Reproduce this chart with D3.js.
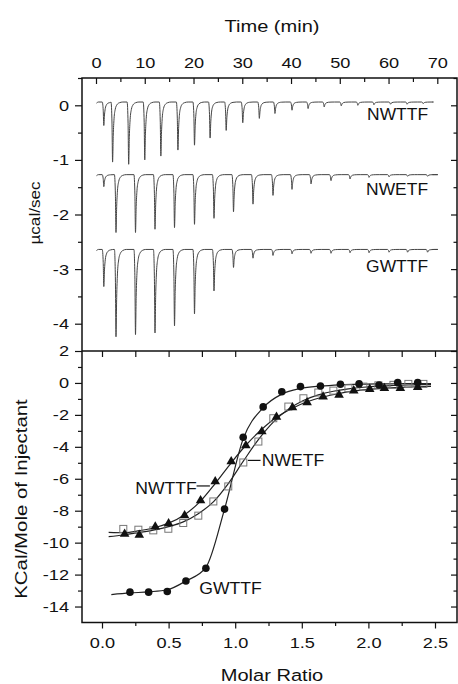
<!DOCTYPE html>
<html>
<head>
<meta charset="utf-8">
<script src="https://cdn.jsdelivr.net/npm/d3@7"></script>
<style>
  html, body { margin: 0; padding: 0; background: #fff; }
  svg { display: block; }
</style>
</head>
<body>
<svg id="chart" width="458" height="684"></svg>
<script>
// ---------------- DATA ----------------
// Top panel: raw thermograms (time in min, µcal/sec)
const timeTicks = [0, 10, 20, 30, 40, 50, 60, 70];
const rawYTicks = [0, -1, -2, -3, -4];

const nwttfBase = 0.06;
const nwttfTimes = [1.4, 3.2, 6.5, 9.8, 13.1, 16.6, 20.0, 23.2, 26.5, 29.9, 33.3, 36.5, 40.0, 43.3, 46.6, 50.1, 53.5, 56.8, 60.2, 63.6, 66.9];
const nwttfPeaks = [-0.37, -1.04, -1.08, -1.00, -0.93, -0.82, -0.73, -0.60, -0.46, -0.32, -0.24, -0.15, -0.09, -0.06, -0.03, -0.01, 0.00, 0.01, 0.02, 0.02, 0.03];

const nwetfBase = -1.27;
const nwetfTimes = [1.4, 3.9, 7.9, 11.9, 15.9, 20.0, 24.0, 28.0, 32.0, 36.1, 40.0, 43.9, 48.0, 51.9, 55.8, 59.9, 63.7, 67.8];
const nwetfPeaks = [-1.49, -2.33, -2.33, -2.27, -2.24, -2.18, -2.07, -1.95, -1.81, -1.65, -1.54, -1.44, -1.38, -1.35, -1.32, -1.31, -1.30, -1.30];

const gwttfBase = -2.64;
const gwttfTimes = [1.4, 3.9, 7.9, 11.9, 15.9, 20.0, 24.0, 28.0, 32.0, 36.1, 40.0, 43.9, 48.0, 51.9, 55.8, 59.9, 63.7, 67.8];
const gwttfPeaks = [-3.32, -4.24, -4.20, -4.17, -4.04, -3.82, -3.40, -2.97, -2.80, -2.75, -2.72, -2.71, -2.71, -2.70, -2.70, -2.69, -2.69, -2.69];

// Bottom panel: integrated heats (molar ratio, kcal/mol of injectant)
const molarTicks = [0, 0.5, 1.0, 1.5, 2.0, 2.5];
const heatYTicks = [2, 0, -2, -4, -6, -8, -10, -12, -14];

const nwttfRatio = [0.17, 0.28, 0.40, 0.50, 0.62, 0.74, 0.85, 0.97, 1.08, 1.20, 1.31, 1.43, 1.54, 1.66, 1.78, 1.89, 2.01, 2.12, 2.24, 2.37];
const nwttfHeat  = [-9.46, -9.52, -9.00, -8.80, -8.30, -7.36, -6.17, -4.92, -3.92, -3.04, -2.13, -1.54, -1.23, -0.86, -0.75, -0.48, -0.39, -0.33, -0.33, -0.27];

const nwetfRatio = [0.160, 0.273, 0.385, 0.498, 0.610, 0.723, 0.836, 0.948, 1.061, 1.174, 1.286, 1.399, 1.512, 1.624, 1.737, 1.850, 1.962, 2.075, 2.188, 2.300, 2.413];
const nwetfHeat  = [-9.14, -9.19, -9.23, -9.13, -8.77, -8.31, -7.42, -6.48, -4.98, -3.67, -2.21, -1.48, -0.96, -0.60, -0.48, -0.33, -0.23, -0.15, -0.12, -0.06, -0.06];

const gwttfRatio = [0.21, 0.35, 0.49, 0.63, 0.78, 0.92, 1.06, 1.21, 1.35, 1.49, 1.64, 1.79, 1.93, 2.08, 2.22, 2.37];
const gwttfHeat  = [-13.10, -13.10, -13.06, -12.40, -11.60, -7.90, -3.40, -1.50, -0.55, -0.23, -0.19, -0.08, -0.06, -0.13, 0.02, 0.02];

// Fitted curves
const nwttfFitX = [0.05, 0.17, 0.28, 0.40, 0.50, 0.62, 0.74, 0.85, 0.97, 1.08, 1.20, 1.31, 1.43, 1.54, 1.66, 1.78, 1.89, 2.01, 2.12, 2.24, 2.37, 2.47];
const nwttfFitY = [-9.36, -9.38, -9.25, -9.05, -8.78, -8.25, -7.40, -6.30, -5.00, -3.90, -2.90, -2.15, -1.58, -1.18, -0.88, -0.66, -0.50, -0.40, -0.33, -0.28, -0.24, -0.22];
const nwetfFitX = [0.05, 0.16, 0.27, 0.385, 0.50, 0.61, 0.72, 0.836, 0.948, 1.061, 1.174, 1.286, 1.399, 1.512, 1.624, 1.737, 1.85, 1.962, 2.075, 2.188, 2.30, 2.413, 2.47];
const nwetfFitY = [-9.62, -9.52, -9.38, -9.22, -9.00, -8.70, -8.20, -7.45, -6.30, -4.90, -3.55, -2.45, -1.65, -1.10, -0.75, -0.52, -0.37, -0.27, -0.20, -0.16, -0.13, -0.11, -0.10];
const gwttfFitX = [0.07, 0.21, 0.35, 0.49, 0.63, 0.78, 0.92, 1.06, 1.21, 1.35, 1.49, 1.64, 1.79, 1.93, 2.08, 2.22, 2.37, 2.47];
const gwttfFitY = [-13.25, -13.15, -13.08, -12.95, -12.40, -11.55, -7.90, -3.50, -1.55, -0.70, -0.35, -0.20, -0.12, -0.08, -0.06, -0.05, -0.04, -0.04];

// Labels
const rawLabels = [
  { text: "NWTTF", t: 68.1, v: -0.27 },
  { text: "NWETF", t: 68.1, v: -1.64 },
  { text: "GWTTF", t: 68.1, v: -3.05 }
];
const heatLabels = [
  { text: "NWETF", r: 1.20, h: -5.22, anchor: "start", lead: [1.095, 1.19, -4.85] },
  { text: "NWTTF", r: 0.25, h: -6.95, anchor: "start", lead: [0.71, 0.81, -6.45] },
  { text: "GWTTF", r: 0.73, h: -13.2, anchor: "start", lead: null }
];

// ---------------- LAYOUT ----------------
const FONT = "'Liberation Sans', Arial, Helvetica, sans-serif";
const SX = 1.18;            // horizontal stretch of the reference type
const L = 82, R = 457, T = 78, MID = 351, B = 622.5;

const svg = d3.select("#chart");

const tx = d3.scaleLinear().domain([0, 70]).range([96, 437.3]);
const ty = d3.scaleLinear().domain([-4.5, 0.5]).range([MID, T]);
const mx = d3.scaleLinear().domain([0, 2.5]).range([102, 435]);
const by = d3.scaleLinear().domain([-15, 2]).range([B, MID]);

function styleAxis(g) {
  g.select(".domain").remove();
  g.selectAll("line").attr("stroke", "#111").attr("stroke-width", 1.2);
  g.selectAll("text").attr("font-family", FONT).attr("font-size", 15.4).attr("fill", "#111");
}
function range(a, b, s) { const o = []; for (let v = a; v <= b + 1e-9; v += s) o.push(+v.toFixed(4)); return o; }

// ---- top panel axes
const gTopMaj = svg.append("g").attr("transform", `translate(0,${T})`)
  .call(d3.axisTop(tx).tickValues(timeTicks).tickSize(-6).tickPadding(10).tickFormat(d3.format("d")));
styleAxis(gTopMaj);
gTopMaj.selectAll("text").attr("transform", `scale(${SX},1)`)
  .each(function() { const t = d3.select(this.parentNode).attr("transform"); });
// scaling text inside tick groups: keep x at 0 so centering is preserved
svg.append("g").attr("transform", `translate(0,${T})`)
  .call(d3.axisTop(tx).tickValues(range(5, 65, 10)).tickSize(-4).tickFormat(""))
  .call(styleAxis);

const gLTop = svg.append("g").attr("transform", `translate(${L},0)`)
  .call(d3.axisLeft(ty).tickValues(rawYTicks).tickSize(7).tickPadding(6).tickFormat(d3.format("d")));
styleAxis(gLTop);
gLTop.selectAll("text").attr("x", -13 / SX).attr("transform", `scale(${SX},1)`);
svg.append("g").attr("transform", `translate(${L},0)`)
  .call(d3.axisLeft(ty).tickValues(range(-3.5, 0.5, 1)).tickSize(4).tickFormat(""))
  .call(styleAxis);
svg.append("g").attr("transform", `translate(${R},0)`)
  .call(d3.axisRight(ty).tickValues(rawYTicks).tickSize(-6).tickFormat(""))
  .call(styleAxis);
svg.append("g").attr("transform", `translate(${R},0)`)
  .call(d3.axisRight(ty).tickValues(range(-3.5, 0.5, 1)).tickSize(-3.5).tickFormat(""))
  .call(styleAxis);

// ---- bottom panel axes
const gBot = svg.append("g").attr("transform", `translate(0,${B})`)
  .call(d3.axisBottom(mx).tickValues(molarTicks).tickSize(6).tickPadding(9).tickFormat(d3.format(".1f")));
styleAxis(gBot);
gBot.selectAll("text").attr("transform", `scale(${SX},1)`);
svg.append("g").attr("transform", `translate(0,${B})`)
  .call(d3.axisBottom(mx).tickValues(range(0.25, 2.25, 0.5)).tickSize(3.5).tickFormat(""))
  .call(styleAxis);
svg.append("g").attr("transform", `translate(0,${MID})`)
  .call(d3.axisTop(mx).tickValues(range(0, 2.5, 0.25)).tickSize(-6).tickFormat(""))
  .call(styleAxis);

const gLBot = svg.append("g").attr("transform", `translate(${L},0)`)
  .call(d3.axisLeft(by).tickValues(heatYTicks).tickSize(7).tickPadding(6).tickFormat(d3.format("d")));
styleAxis(gLBot);
gLBot.selectAll("text").attr("x", -13 / SX).attr("transform", `scale(${SX},1)`)
  .text(d => d < 0 ? "-" + Math.abs(d) : d);
gTopMaj.selectAll("text");
gLTop.selectAll("text").text(d => d < 0 ? "-" + Math.abs(d) : d);
svg.append("g").attr("transform", `translate(${L},0)`)
  .call(d3.axisLeft(by).tickValues(range(-13, 1, 2)).tickSize(4).tickFormat(""))
  .call(styleAxis);
svg.append("g").attr("transform", `translate(${R},0)`)
  .call(d3.axisRight(by).tickValues(heatYTicks).tickSize(-6).tickFormat(""))
  .call(styleAxis);
svg.append("g").attr("transform", `translate(${R},0)`)
  .call(d3.axisRight(by).tickValues(range(-13, 1, 2)).tickSize(-3.5).tickFormat(""))
  .call(styleAxis);

// ---- frame
svg.append("rect").attr("x", L).attr("y", T).attr("width", R - L).attr("height", B - T)
  .attr("fill", "none").attr("stroke", "#111").attr("stroke-width", 1.5);
svg.append("line").attr("x1", L).attr("x2", R).attr("y1", MID).attr("y2", MID)
  .attr("stroke", "#111").attr("stroke-width", 1.5);

// ---- axis titles
function hText(txt, x, y, size, anchor, scale) {
  return svg.append("text")
    .attr("transform", `translate(${x},${y}) scale(${scale},1)`)
    .attr("text-anchor", anchor || "middle")
    .attr("font-family", FONT).attr("font-size", size).attr("fill", "#111")
    .text(txt);
}
hText("Time (min)", 272, 31.5, 17, "middle", SX);
hText("Molar Ratio", 272, 681, 17, "middle", SX);
svg.append("text")
  .attr("transform", `translate(40,213) rotate(-90) scale(${SX},1)`)
  .attr("text-anchor", "middle").attr("font-family", FONT).attr("font-size", 14.5).attr("fill", "#111")
  .text("µcal/sec");
svg.append("text")
  .attr("transform", `translate(26.5,499) rotate(-90) scale(${SX},1)`)
  .attr("text-anchor", "middle").attr("font-family", FONT).attr("font-size", 17.3).attr("fill", "#111")
  .text("KCal/Mole of Injectant");

// ---------------- TOP PANEL TRACES ----------------
// shape of one injection peak: [time offset (min), fraction of peak depth]
const peakShape = [[-0.12, 0], [0.08, 0.35], [0.2, 1], [0.34, 0.55], [0.5, 0.28], [0.75, 0.12], [1.1, 0.045], [1.6, 0.012], [2.3, 0]];

function tracePoints(base, times, peaks) {
  const pts = [[0.1, base - 0.02], [0.5, base]];
  times.forEach((t0, i) => {
    const depth = peaks[i] - base;
    const next = i < times.length - 1 ? times[i + 1] : 69;
    peakShape.forEach(([dt, f]) => {
      const t = t0 + dt;
      if (t < next - 0.12 || i === times.length - 1) pts.push([t, base + f * depth]);
    });
  });
  pts.push([69.0, base]);
  return pts;
}

const traceLine = d3.line().x(d => tx(d[0])).y(d => ty(d[1])).curve(d3.curveMonotoneX);
[[nwttfBase, nwttfTimes, nwttfPeaks], [nwetfBase, nwetfTimes, nwetfPeaks], [gwttfBase, gwttfTimes, gwttfPeaks]]
  .forEach(([b, t, p]) => {
    svg.append("path").attr("d", traceLine(tracePoints(b, t, p)))
      .attr("fill", "none").attr("stroke", "#444").attr("stroke-width", 1);
  });

rawLabels.forEach(l => {
  hText(l.text, tx(l.t), ty(l.v), 16, "end", 1.09);
});

// ---------------- BOTTOM PANEL ----------------
const fitLine = d3.line().x(d => mx(d[0])).y(d => by(d[1])).curve(d3.curveMonotoneX);
[[nwetfFitX, nwetfFitY], [nwttfFitX, nwttfFitY], [gwttfFitX, gwttfFitY]].forEach(([xs, ys]) => {
  svg.append("path").attr("d", fitLine(xs.map((x, i) => [x, ys[i]])))
    .attr("fill", "none").attr("stroke", "#222").attr("stroke-width", 1.2);
});

// NWETF open squares
svg.append("g").selectAll("rect").data(nwetfRatio.map((r, i) => [r, nwetfHeat[i]])).join("rect")
  .attr("x", d => mx(d[0]) - 3.5).attr("y", d => by(d[1]) - 3.5)
  .attr("width", 7).attr("height", 7)
  .attr("fill", "none").attr("stroke", "#777").attr("stroke-width", 1);

// NWTTF filled triangles
const tri = d3.symbol().type(d3.symbolTriangle).size(40);
svg.append("g").selectAll("path").data(nwttfRatio.map((r, i) => [r, nwttfHeat[i]])).join("path")
  .attr("d", tri).attr("transform", d => `translate(${mx(d[0])},${by(d[1])})`)
  .attr("fill", "#111");

// GWTTF filled circles
svg.append("g").selectAll("circle").data(gwttfRatio.map((r, i) => [r, gwttfHeat[i]])).join("circle")
  .attr("cx", d => mx(d[0])).attr("cy", d => by(d[1])).attr("r", 3.8)
  .attr("fill", "#111");

heatLabels.forEach(l => {
  hText(l.text, mx(l.r), by(l.h), 16, l.anchor, 1.1);
  if (l.lead) {
    svg.append("line").attr("x1", mx(l.lead[0])).attr("x2", mx(l.lead[1]))
      .attr("y1", by(l.lead[2])).attr("y2", by(l.lead[2]))
      .attr("stroke", "#111").attr("stroke-width", 1.2);
  }
});
</script>
</body>
</html>
